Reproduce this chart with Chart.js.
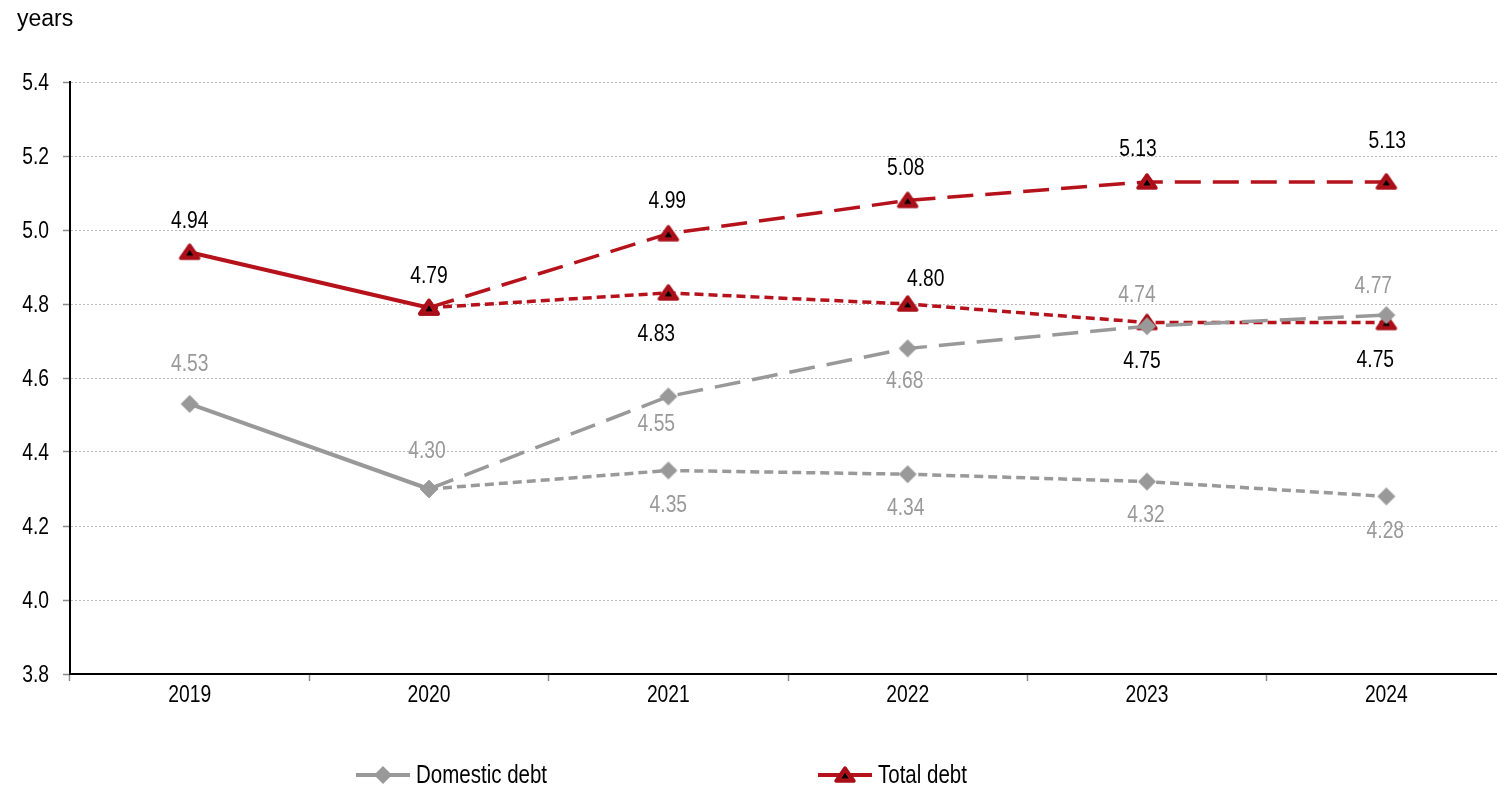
<!DOCTYPE html>
<html>
<head>
<meta charset="utf-8">
<script src="https://cdn.jsdelivr.net/npm/chart.js@4.4.1/dist/chart.umd.min.js"></script>
<style>
  html, body { margin: 0; padding: 0; background: #fff; overflow: hidden; }
  canvas { display: block; }
</style>
</head>
<body>
<canvas id="maturityChart" width="1520" height="788"></canvas>
<script>
// average maturity, years
const years = ["2019", "2020", "2021", "2022", "2023", "2024"];

const domesticActual = [4.53, 4.30, null, null, null, null];
const domesticHigh   = [null, 4.30, 4.55, 4.68, 4.74, 4.77];
const domesticLow    = [null, 4.30, 4.35, 4.34, 4.32, 4.28];

const totalActual = [4.94, 4.79, null, null, null, null];
const totalHigh   = [null, 4.79, 4.99, 5.08, 5.13, 5.13];
const totalLow    = [null, 4.79, 4.83, 4.80, 4.75, 4.75];

const yTicks = [3.8, 4.0, 4.2, 4.4, 4.6, 4.8, 5.0, 5.2, 5.4];

const FONT = '"Liberation Sans", Arial, sans-serif';
const SQUEEZE = 0.82;   // poor man's narrow face
const GREY = "#999999";
const RED = "#B5121B";

// where each value label sits relative to its point [dx, dy]
const domesticActualPos = [[0, -41], [-2, -40], null, null, null, null];
const domesticHighPos   = [null, null, [-12, 26], [-3, 31], [-10, -33], [-13, -31]];
const domesticLowPos    = [null, null, [0, 33], [-2, 32], [-1, 32], [-1, 33]];
const totalActualPos = [[0, -33], [0, -33], null, null, null, null];
const totalHighPos   = [null, null, [-1, -34], [-2, -34], [-9, -34], [1, -42]];
const totalLowPos    = [null, null, [-12, 40], [18, -27], [-5, 37], [-11, 36]];

function narrowText(ctx, text, x, y, align, size, color) {
    ctx.save();
    ctx.font = size + "px " + FONT;
    ctx.fillStyle = color;
    ctx.textAlign = align;
    ctx.textBaseline = "alphabetic";
    ctx.translate(x, y);
    ctx.scale(SQUEEZE, 1);
    ctx.fillText(text, 0, 0);
    ctx.restore();
}

function makeTriangle() {
    const c = document.createElement("canvas");
    c.width = 26; c.height = 24;
    const g = c.getContext("2d");
    const cx = 13, cy = 13;
    const tri = (w, top, bottom) => {
        g.beginPath();
        g.moveTo(cx, cy - top);
        g.lineTo(cx + w, cy + bottom);
        g.lineTo(cx - w, cy + bottom);
        g.closePath();
    };
    tri(9, 8, 5);
    g.fillStyle = "#C8161F";
    g.fill();
    g.lineJoin = "round";
    g.lineWidth = 3.5;
    g.strokeStyle = "#A80F18";
    g.stroke();
    tri(3.8, 3.5, 2.5);
    g.fillStyle = "#000";
    g.fill();
    return c;
}

function makeDiamond() {
    const c = document.createElement("canvas");
    c.width = 22; c.height = 22;
    const g = c.getContext("2d");
    const cx = 11, cy = 11, r = 9;
    g.beginPath();
    g.moveTo(cx, cy - r);
    g.lineTo(cx + r, cy);
    g.lineTo(cx, cy + r);
    g.lineTo(cx - r, cy);
    g.closePath();
    g.fillStyle = GREY;
    g.fill();
    return c;
}

const triangle = makeTriangle();
const diamond = makeDiamond();

function series(data, color, marker, dash, width, labelPos, labelColor, order) {
    return {
        data: data,
        borderColor: color,
        borderWidth: width,
        borderDash: dash,
        borderCapStyle: "butt",
        pointStyle: marker,
        pointRadius: 10,
        pointHoverRadius: 10,
        fill: false,
        tension: 0,
        spanGaps: false,
        labelPos: labelPos,
        labelColor: labelColor,
        order: order
    };
}

// axis labels, value labels, unit and legend, all in the squeezed face
const textLayer = {
    id: "textLayer",
    afterDraw(chart) {
        const ctx = chart.ctx;
        const x = chart.scales.x, y = chart.scales.y;

        y.ticks.forEach((t, i) => {
            narrowText(ctx, t.value.toFixed(1), 49, y.getPixelForTick(i) + 8, "right", 23.5, "#000");
        });
        x.ticks.forEach((t, i) => {
            narrowText(ctx, years[t.value], x.getPixelForTick(i), 702, "center", 23.5, "#000");
        });

        chart.data.datasets.forEach((ds) => {
            ds.data.forEach((v, i) => {
                const pos = ds.labelPos[i];
                if (v === null || !pos) return;
                narrowText(ctx, v.toFixed(2), x.getPixelForValue(i) + pos[0],
                    y.getPixelForValue(v) + pos[1] + 8.5, "center", 23.5, ds.labelColor);
            });
        });

        ctx.save();
        ctx.font = "23px " + FONT;
        ctx.fillStyle = "#000";
        ctx.textBaseline = "alphabetic";
        ctx.fillText("years", 17, 26);
        ctx.restore();

        const entries = [
            { x: 356, text: "Domestic debt", color: GREY, marker: diamond },
            { x: 818, text: "Total debt", color: RED, marker: triangle }
        ];
        const ly = 775;
        entries.forEach((e) => {
            ctx.save();
            ctx.strokeStyle = e.color;
            ctx.lineWidth = 4;
            ctx.beginPath();
            ctx.moveTo(e.x, ly);
            ctx.lineTo(e.x + 54, ly);
            ctx.stroke();
            ctx.drawImage(e.marker, e.x + 27 - e.marker.width / 2, ly - e.marker.height / 2);
            ctx.restore();
            narrowText(ctx, e.text, e.x + 60, 783, "left", 25, "#000");
        });
    }
};

new Chart("maturityChart", {
    type: "line",
    data: {
        labels: years,
        datasets: [
            series(totalHigh, RED, triangle, [26, 12], 3.5, totalHighPos, "#000", 1),
            series(totalActual, RED, triangle, [], 4, totalActualPos, "#000", 2),
            series(domesticHigh, GREY, diamond, [26, 12], 3.5, domesticHighPos, GREY, 3),
            series(totalLow, RED, triangle, [9, 5], 3.5, totalLowPos, "#000", 4),
            series(domesticActual, GREY, diamond, [], 4, domesticActualPos, GREY, 5),
            series(domesticLow, GREY, diamond, [9, 5], 3.5, domesticLowPos, GREY, 6)
        ]
    },
    options: {
        responsive: false,
        animation: false,
        layout: { padding: { top: 82, right: 0, bottom: 0, left: 0 } },
        plugins: {
            legend: { display: false },
            tooltip: { enabled: false }
        },
        scales: {
            x: {
                type: "category",
                offset: true,
                afterFit(scale) { scale.height = 114; },
                grid: {
                    offset: true,
                    drawOnChartArea: false,
                    drawTicks: true,
                    tickLength: 7,
                    tickColor: "#8a8a8a",
                    tickWidth: 1.5
                },
                border: { display: true, color: "#000", width: 2 },
                ticks: {
                    color: "rgba(0,0,0,0)",
                    font: { family: FONT, size: 20 },
                    padding: 1,
                    maxRotation: 0
                }
            },
            y: {
                min: 3.8,
                max: 5.4,
                afterFit(scale) { scale.width = 70; },
                afterBuildTicks(scale) {
                    scale.ticks = yTicks.map((v) => ({ value: v }));
                },
                grid: {
                    color: "#b8b8b8",
                    lineWidth: 1,
                    drawTicks: true,
                    tickLength: 7,
                    tickColor: "#8a8a8a",
                    tickWidth: 1.5
                },
                border: { display: true, color: "#000", width: 2, dash: [2, 2] },
                ticks: {
                    color: "rgba(0,0,0,0)",
                    font: { family: FONT, size: 20 },
                    padding: 13,
                    callback: (v) => Number(v).toFixed(1)
                }
            }
        }
    },
    plugins: [textLayer]
});
</script>
</body>
</html>
